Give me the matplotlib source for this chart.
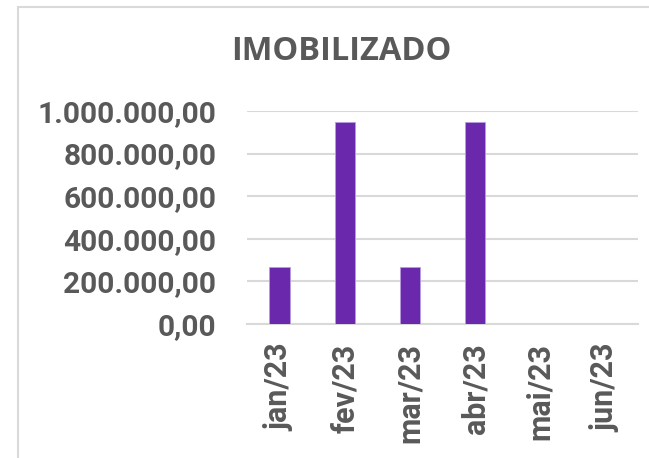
import matplotlib.pyplot as plt
from matplotlib.patches import Rectangle

# Data
months = ['jan/23', 'fev/23', 'mar/23', 'abr/23', 'mai/23', 'jun/23']
values = [267000, 947000, 267000, 947000, 0, 0]
yticks = [0, 200000, 400000, 600000, 800000, 1000000]
ytick_labels = ['0,00', '200.000,00', '400.000,00', '600.000,00', '800.000,00', '1.000.000,00']

plt.rcParams['font.family'] = ['Roboto', 'DejaVu Sans']

fig = plt.figure(figsize=(6.49, 4.58), dpi=100)
W, H = 649, 458
ax = fig.add_axes([247 / W, (H - 324) / H, (638 - 247) / W, (324 - 111) / H])

# chart border (only left and top visible in the crop)
fig.patches.append(Rectangle((18 / W, -0.2), 1.2, (H - 7) / H + 0.2, transform=fig.transFigure,
                             fill=False, edgecolor='#d9d9d9', linewidth=1.5, clip_on=False))

x = range(len(months))
ax.bar(x, values, width=0.31, color='#6a28ad', edgecolor='#b89be0', linewidth=0.6, zorder=3)

ax.set_xlim(-0.5, len(months) - 0.5)
ax.set_ylim(0, 1000000)
ax.set_yticks(yticks)
ax.set_yticklabels(ytick_labels)
ax.set_xticks(list(x))
ax.set_xticklabels(months, rotation=90)

ax.grid(axis='y', color='#d9d9d9', linewidth=1.5, zorder=0)
for s in ['top', 'right', 'left']:
    ax.spines[s].set_visible(False)
ax.spines['bottom'].set_color('#d9d9d9')
ax.spines['bottom'].set_linewidth(1.5)
ax.tick_params(length=0, colors='#595959', labelsize=21.5)
ax.tick_params(axis='y', pad=22)
ax.tick_params(axis='x', pad=14, labelsize=22)
for lbl in ax.get_yticklabels() + ax.get_xticklabels():
    lbl.set_fontweight('bold')

fig.text(341 / W, 1 - 52 / H, 'IMOBILIZADO', ha='center', va='center',
         fontsize=23.5, fontweight='bold', color='#595959', family=['Open Sans', 'DejaVu Sans'])

fig.savefig('out.png', dpi=100)
